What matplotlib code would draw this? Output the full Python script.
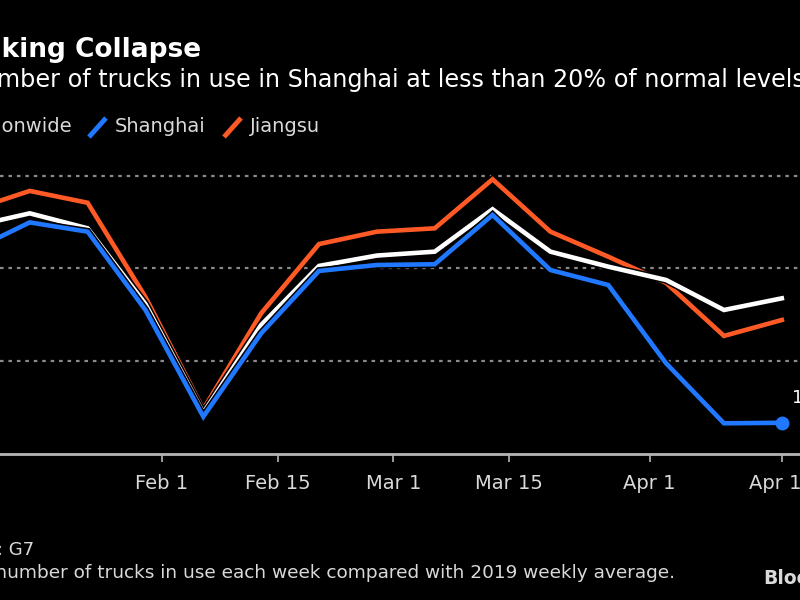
import matplotlib
matplotlib.use("Agg")
import matplotlib.pyplot as plt
import matplotlib.patheffects as pe
from matplotlib.lines import Line2D
import pandas as pd

# ---------------- data ----------------
week_start = "2022-01-09"
n_weeks = 15
nationwide = [122.6, 129.7, 121.6, 80.7, 21.9, 69.4, 101.3, 106.9, 109.0, 131.9, 109.0, 100.9, 93.7, 77.5, 83.8]
shanghai   = [109.6, 124.8, 119.8, 77.5, 19.9, 64.9, 98.6, 101.8, 102.2, 128.8, 99.1, 91.0, 48.7, 16.3, 16.6]
jiangsu    = [131.5, 141.8, 135.4, 84.5, 23.9, 75.7, 113.1, 119.8, 121.6, 148.1, 119.8, 106.3, 92.1, 63.5, 72.1]
tick_dates = ["2022-01-09", "2022-02-01", "2022-02-15", "2022-03-01", "2022-03-15", "2022-04-01", "2022-04-17"]
tick_labels = ["Jan 9", "Feb 1", "Feb 15", "Mar 1", "Mar 15", "Apr 1", "Apr 17"]
grid_values = [50, 100, 150]
end_label = "17"

dates = pd.date_range(week_start, periods=n_weeks, freq="7D")

BLUE = "#1f78ff"
ORANGE = "#ff5a26"
WHITE = "#ffffff"
TXT = "#d9d9d9"

W, H = 800, 600
fig = plt.figure(figsize=(8, 6), dpi=100, facecolor="black")

def fx(x):
    return x / W

def fy(y):
    return 1 - y / H

# axes: data area from y=140px to y=453.5px, full width (chart is cropped at both sides)
ax = fig.add_axes([0, fy(453.5), 1, (453.5 - 140) / H])
ax.set_facecolor("black")

for v in grid_values:
    ax.axhline(v, color="#8a8a8a", lw=1.6, dashes=(1.6, 2.2), zorder=1)

halo = [pe.Stroke(linewidth=5.5, foreground="black"), pe.Normal()]
ax.plot(dates, jiangsu, color=ORANGE, lw=3.3, zorder=3, path_effects=halo, solid_joinstyle="miter")
ax.plot(dates, nationwide, color=WHITE, lw=3.3, zorder=4, path_effects=halo, solid_joinstyle="miter")
ax.plot(dates, shanghai, color=BLUE, lw=3.3, zorder=5, path_effects=halo, solid_joinstyle="miter")
ax.plot(dates[-1:], shanghai[-1:], "o", color=BLUE, ms=9, zorder=6)
ax.annotate(end_label, (dates[-1], shanghai[-1]), xytext=(7, 18), textcoords="offset points",
            color=WHITE, fontsize=13, va="center", ha="left", annotation_clip=False)

for s in ["top", "left", "right"]:
    ax.spines[s].set_visible(False)
ax.spines["bottom"].set_color("#b5b5b5")
ax.spines["bottom"].set_linewidth(2)
ax.set_yticks([])
ax.set_xticks(pd.to_datetime(tick_dates))
ax.set_xticklabels(tick_labels)
ax.tick_params(axis="x", colors="#b5b5b5", length=6, width=1.2, pad=9, labelsize=14, labelcolor=TXT)

feb1 = pd.Timestamp("2022-02-01")
ax.set_xlim(feb1 - pd.Timedelta(days=19.6), feb1 + pd.Timedelta(days=77.2))
ax.set_ylim(0, 169.3)

# ---------------- texts ----------------
fig.text(fx(201), fy(50), "Trucking Collapse", ha="right", va="center",
         fontsize=19, fontweight="bold", color=WHITE)

fig.text(fx(805), fy(80), "Number of trucks in use in Shanghai at less than 20% of normal levels",
         ha="right", va="center", fontsize=17.2, color=WHITE)

# legend
leg_y = 127
fig.text(fx(72), fy(leg_y), "Nationwide", ha="right", va="center", fontsize=14, color=TXT)
fig.add_artist(Line2D([fx(89), fx(106)], [fy(137), fy(118)], color=BLUE, lw=3.5, solid_capstyle="butt"))
fig.text(fx(115), fy(leg_y), "Shanghai", ha="left", va="center", fontsize=14, color=TXT)
fig.add_artist(Line2D([fx(224), fx(241)], [fy(137), fy(118)], color=ORANGE, lw=3.5, solid_capstyle="butt"))
fig.text(fx(250), fy(leg_y), "Jiangsu", ha="left", va="center", fontsize=14, color=TXT)

# footer
fig.text(fx(34), fy(550), "Source: G7", ha="right", va="center", fontsize=13, color=TXT)
fig.text(fx(675), fy(573), "Note: The number of trucks in use each week compared with 2019 weekly average.",
         ha="right", va="center", fontsize=13.3, color=TXT)
fig.text(fx(763), fy(578), "Bloomberg", ha="left", va="center", fontsize=13.5, fontweight="bold", color=TXT)

fig.savefig("out.png", dpi=100, facecolor="black")
